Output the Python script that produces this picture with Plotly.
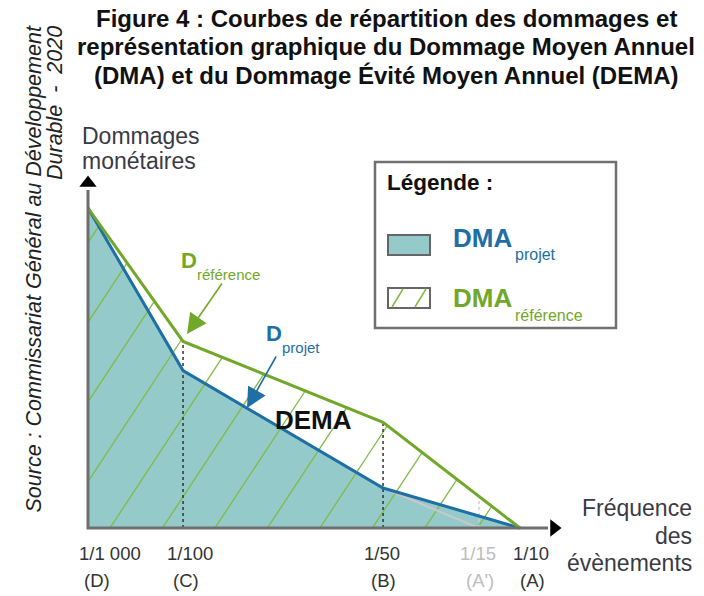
import numpy as np
import plotly.graph_objects as go

# axe des fréquences : position schématique (0 = 1/1 000, 100 = 1/10)
freq_labels = ["1/1 000", "1/100", "1/50", "1/15", "1/10"]
event_labels = ["(D)", "(C)", "(B)", "(A')", "(A)"]
freq_pos = [0, 22.0, 68.3, 90.5, 100]

# courbes de dommages (unités arbitraires)
x_ref = [0, 22.0, 68.3, 100]
d_reference = [100, 58.3, 33.0, 0]
x_proj = [0, 22.0, 68.3, 100]
d_projet = [100, 49.2, 12.5, 0]
# variante grise projet -> 1/15
x_alt = [68.3, 90.5]
d_alt = [12.5, 0]

title_lines = [
    "Figure 4 : Courbes de répartition des dommages et",
    "représentation graphique du Dommage Moyen Annuel",
    "(DMA) et du Dommage Évité Moyen Annuel (DEMA)",
]

W, H = 704, 596
FONT = "Liberation Sans, Arial, sans-serif"
TEAL = "#95caca"
BLUE = "#1d6fa5"
GREEN = "#72a82a"
HATCH = "#80bb45"
GREY_TXT = "#3a3a45"

# repère : origine des axes à (88, 528) px
OX, OY, SX, SY = 88, 528, 4.32, 3.2


def dx(px):
    return (px - OX) / SX


def dy(py):
    return (OY - py) / SY


def ann(text, x, y, size, color="#333", xanchor="center", yanchor="middle",
        style="normal", angle=0):
    return dict(text=text, xref="paper", yref="paper", x=x / W, y=1 - y / H,
                showarrow=False, xanchor=xanchor, yanchor=yanchor, textangle=angle,
                font=dict(family=FONT, size=size, color=color, style=style))


def arrow(x_tip, y_tip, x_tail, y_tail, color):
    return dict(text="", xref="paper", yref="paper", x=x_tip / W, y=1 - y_tip / H,
                ax=x_tail - x_tip, ay=y_tail - y_tip, showarrow=True,
                arrowhead=2, arrowsize=2.5, arrowwidth=1.6, arrowcolor=color,
                standoff=0)


fig = go.Figure()

# DMA projet (surface bleu-vert)
fig.add_trace(go.Scatter(x=[0] + x_proj, y=[0] + d_projet, fill="toself",
                         fillcolor=TEAL, mode="none", hoverinfo="skip"))

# hachures DMA référence
slope, step = 2.05, 12.15
grid = np.linspace(0, 100, 4001)
ref_grid = np.interp(grid, x_ref, d_reference)
hx, hy = [], []
for s in 5.09 + step * np.arange(-8, 9):
    line = slope * (grid - s)
    idx = np.where((line >= 0) & (line <= ref_grid))[0]
    if len(idx) < 2:
        continue
    hx += [grid[idx[0]], grid[idx[-1]], None]
    hy += [line[idx[0]], line[idx[-1]], None]
fig.add_trace(go.Scatter(x=hx, y=hy, mode="lines",
                         line=dict(color=HATCH, width=1.3), hoverinfo="skip"))

# variante grise
fig.add_trace(go.Scatter(x=x_alt, y=d_alt, mode="lines",
                         line=dict(color="#c8c8c8", width=2), hoverinfo="skip"))

# pointillés verticaux
for xv, col in [(freq_pos[1], "#333"), (freq_pos[2], "#333"), (freq_pos[3], "#cfcfcf")]:
    fig.add_trace(go.Scatter(x=[xv, xv], y=[0, np.interp(xv, x_ref, d_reference)],
                             mode="lines", line=dict(color=col, width=1.5, dash="dot"),
                             hoverinfo="skip"))

# courbes
fig.add_trace(go.Scatter(x=x_proj, y=d_projet, mode="lines",
                         line=dict(color=BLUE, width=3), hoverinfo="skip"))
fig.add_trace(go.Scatter(x=x_ref, y=d_reference, mode="lines",
                         line=dict(color=GREEN, width=3), hoverinfo="skip"))

# axes avec flèches
fig.add_trace(go.Scatter(x=[0, 0, dx(548)], y=[dy(190), 0, 0], mode="lines",
                         line=dict(color="#6e6e6e", width=3), hoverinfo="skip"))
fig.add_trace(go.Scatter(x=[0, dx(554)], y=[dy(183), 0], mode="markers",
                         marker=dict(symbol=["triangle-up", "triangle-right"],
                                     size=15, color="black"),
                         hoverinfo="skip"))

annotations = []
for line_txt, yc in zip(title_lines, [18, 47, 75]):
    annotations.append(ann("<b>" + line_txt + "</b>", 386, yc, 24, color="#111"))

annotations += [
    ann("Source : Commissariat Général au Développement", 34, 24, 21.5,
        color="#222", yanchor="top", style="italic", angle=-90),
    ann("Durable\u00a0\u00a0-\u00a0\u00a02020", 55, 24, 21.5, color="#222",
        yanchor="top", style="italic", angle=-90),
    ann("Dommages", 80, 136, 23, color=GREY_TXT, xanchor="left"),
    ann("monétaires", 80, 161, 23, color=GREY_TXT, xanchor="left"),
    ann("Fréquence", 694, 508, 23, color=GREY_TXT, xanchor="right"),
    ann("des", 694, 536, 23, color=GREY_TXT, xanchor="right"),
    ann("évènements", 694, 563, 23, color=GREY_TXT, xanchor="right"),
    # légende
    ann("<b>Légende :</b>", 385, 183, 22.5, color="#111", xanchor="left"),
    ann("<b>DMA</b>", 451, 238, 26, color=BLUE, xanchor="left"),
    ann("projet", 513, 254, 16, color=BLUE, xanchor="left"),
    ann("<b>DMA</b>", 451, 298, 26, color=GREEN, xanchor="left"),
    ann("référence", 513, 315, 16, color=GREEN, xanchor="left"),
    # étiquettes des courbes
    ann("<b>D</b>", 179, 261, 22, color=GREEN, xanchor="left"),
    ann("référence", 195, 274, 15, color=GREEN, xanchor="left"),
    ann("<b>D</b>", 264, 333, 22, color=BLUE, xanchor="left"),
    ann("projet", 280, 347, 15, color=BLUE, xanchor="left"),
    ann("<b>DEMA</b>", 313, 420, 26, color="#111"),
    arrow(187, 334, 223, 282, GREEN),
    arrow(247, 408, 277, 355, BLUE),
]

# graduations de l'axe des fréquences
label_px = [110, 190, 382, 478, 531]
event_px = [97, 186, 383, 480, 532]
for lab, ev, lx, ex in zip(freq_labels, event_labels, label_px, event_px):
    col = "#bdbdbd" if lab == "1/15" else "#333"
    annotations.append(ann(lab, lx, 553, 18.5, color=col))
    annotations.append(ann(ev, ex, 580, 18.5, color=col))

shapes = [
    dict(type="rect", xref="paper", yref="paper", x0=375 / W, x1=616 / W,
         y0=1 - 328 / H, y1=1 - 162 / H, line=dict(color="#707070", width=2.5)),
    dict(type="rect", xref="paper", yref="paper", x0=388 / W, x1=430 / W,
         y0=1 - 255 / H, y1=1 - 235 / H, fillcolor=TEAL,
         line=dict(color="#666", width=2)),
    dict(type="rect", xref="paper", yref="paper", x0=388 / W, x1=430 / W,
         y0=1 - 308 / H, y1=1 - 288 / H, fillcolor="white",
         line=dict(color="#666", width=2)),
    dict(type="line", xref="paper", yref="paper", x0=392 / W, x1=403 / W,
         y0=1 - 307 / H, y1=1 - 289 / H, line=dict(color=HATCH, width=1.5)),
    dict(type="line", xref="paper", yref="paper", x0=415 / W, x1=426 / W,
         y0=1 - 307 / H, y1=1 - 289 / H, line=dict(color=HATCH, width=1.5)),
]

fig.update_layout(
    width=W, height=H,
    margin=dict(l=0, r=0, t=0, b=0),
    plot_bgcolor="white", paper_bgcolor="white",
    showlegend=False,
    xaxis=dict(range=[dx(0), dx(W)], visible=False, fixedrange=True),
    yaxis=dict(range=[dy(H), dy(0)], visible=False, fixedrange=True),
    annotations=annotations,
    shapes=shapes,
)

fig.write_html("out.html", config={"displayModeBar": False},
               post_script="document.body.style.margin='0px';")
